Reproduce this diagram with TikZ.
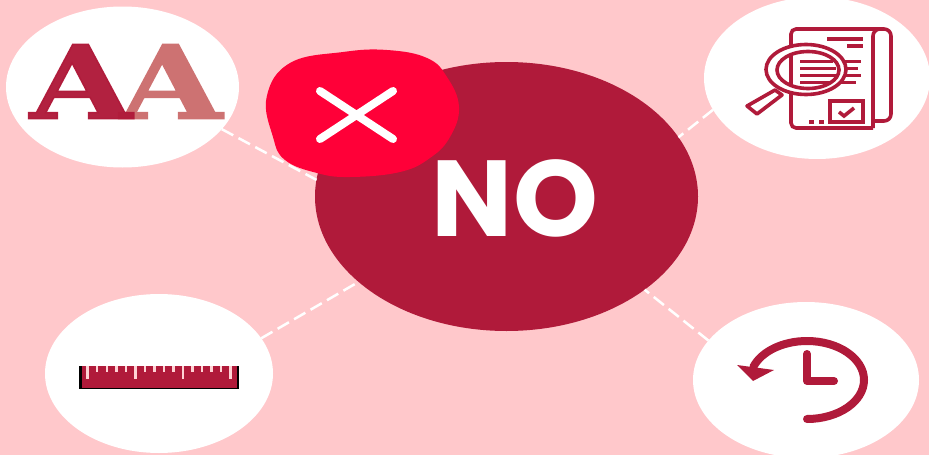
\documentclass[tikz,border=0pt]{standalone}
\usepackage{fontspec}
\newfontfamily\slabfont[FakeStretch=1.3,FakeBold=1.5]{DejaVu Serif Bold}
\newfontfamily\nofont{Poppins}
\usetikzlibrary{shapes.geometric}
\definecolor{bgpink}{HTML}{FFC8CB}
\definecolor{crimson}{HTML}{B01A3A}
\definecolor{redblob}{HTML}{FF0038}
\definecolor{softred}{HTML}{CD7272}
\tikzset{
  bubble/.style={ellipse, fill=white, inner sep=0pt, outer sep=0pt, minimum width=#1},
  link/.style={draw=white, line width=2.5pt, dash pattern=on 13pt off 6pt},
  icon/.style={draw=crimson, line width=3.6pt},
  letter/.style={font=\slabfont\fontsize{102}{102}\selectfont, inner sep=0pt},
}
\begin{document}
\begin{tikzpicture}[x=1pt, y=-1pt]
  \useasboundingbox (0,0) rectangle (929,455);
  \fill[bgpink] (0,0) rectangle (929,455);
  % bubbles
  \node[ellipse, fill=crimson, inner sep=0pt, outer sep=0pt, minimum width=383pt, minimum height=269pt] (main) at (506.5,196.5) {};
  \node[bubble=233pt, minimum height=161pt] (fontb) at (122.5,87) {};
  \node[bubble=226pt, minimum height=162pt] (docb) at (817,78) {};
  \node[bubble=228pt, minimum height=159pt] (ruleb) at (159,373.5) {};
  \node[bubble=226pt, minimum height=156pt] (timeb) at (806,380) {};
  % links
  \draw[link] (fontb.-23) -- (main.175);
  \draw[link] (docb.197) -- (main.19);
  \draw[link] (ruleb.19) -- (main.210);
  \draw[link] (timeb.158) -- (main.-34);
  % badge
  \fill[redblob] plot[smooth cycle, tension=0.7] coordinates {(266.7,96.7) (290,63) (343,52) (387,50) (427,58) (447,77) (459,107) (450,137) (430,158) (400,172) (350,177) (317,173) (285,160) (273,137)};
  \draw[white, line width=8pt, line cap=round] (320,91) -- (393,139) (393,91) -- (320,139);
  \node[text=white, inner sep=0pt, font=\nofont\bfseries\fontsize{108}{108}\selectfont] (nolabel) at (515,198) {NO};
  % letters
  \node[letter, text=softred] (lettertwo) at (171,81.5) {A};
  \node[letter, text=crimson, opacity=0.97] (letterone) at (81,81.5) {A};
  % ruler
  \fill[black] (79,366) rectangle (239,389);
  \fill[crimson] (81.5,366) rectangle (236.5,387.5);
  \foreach \i in {0,...,15} \draw[bgpink!80!white, line width=2.5pt] ({87.7+9.53*\i},366) -- ({87.7+9.53*\i},372);
  \foreach \i in {0,5,10,15} \draw[bgpink!80!white, line width=2.5pt] ({87.7+9.53*\i},366) -- ({87.7+9.53*\i},379);
  % document
  \draw[icon, rounded corners=5pt] (873,128) -- (791,128) -- (791,29) -- (884,29);
  \draw[icon, rounded corners=7pt] (873,128) -- (873,29) -- (891,29) -- (891,121) -- (873,121);
  \draw[icon] (827,39) -- (863,39) (847,46) -- (863,46);
  \foreach \y/\xend in {61.3/861, 68.3/858, 75.3/861, 82.3/856} \draw[icon] (800,\y) -- (\xend,\y);
  \draw[icon] (830,101) rectangle (863,122);
  \draw[icon] (839,112) -- (844,116) -- (854,108);
  \draw[icon] (809,122) -- (814,122) (819,122) -- (824,122);
  % lens
  \draw[icon, fill=white] (806,69.5) ellipse [x radius=40, y radius=25];
  \draw[icon] (808,70) ellipse [x radius=31, y radius=18.5];
  \draw[icon] (791,54.5) -- (791,85.5);
  \foreach \y/\xend in {61.3/833, 68.3/836, 75.3/836, 82.3/830} \draw[icon] (800,\y) -- (\xend,\y);
  \draw[icon, line join=round] (775,90) -- (782,95) -- (757,114) -- (747,106) -- cycle;
  % clock
  \draw[crimson, line width=8pt, line cap=round] (807,419) arc[start angle=90, end angle=-160, x radius=57, y radius=39];
  \fill[crimson] (737,365) -- (774,370) -- (753,381) -- cycle;
  \draw[crimson, line width=8pt, line cap=round, line join=round] (807,354) -- (807,381) -- (834,381);
\end{tikzpicture}
\end{document}
